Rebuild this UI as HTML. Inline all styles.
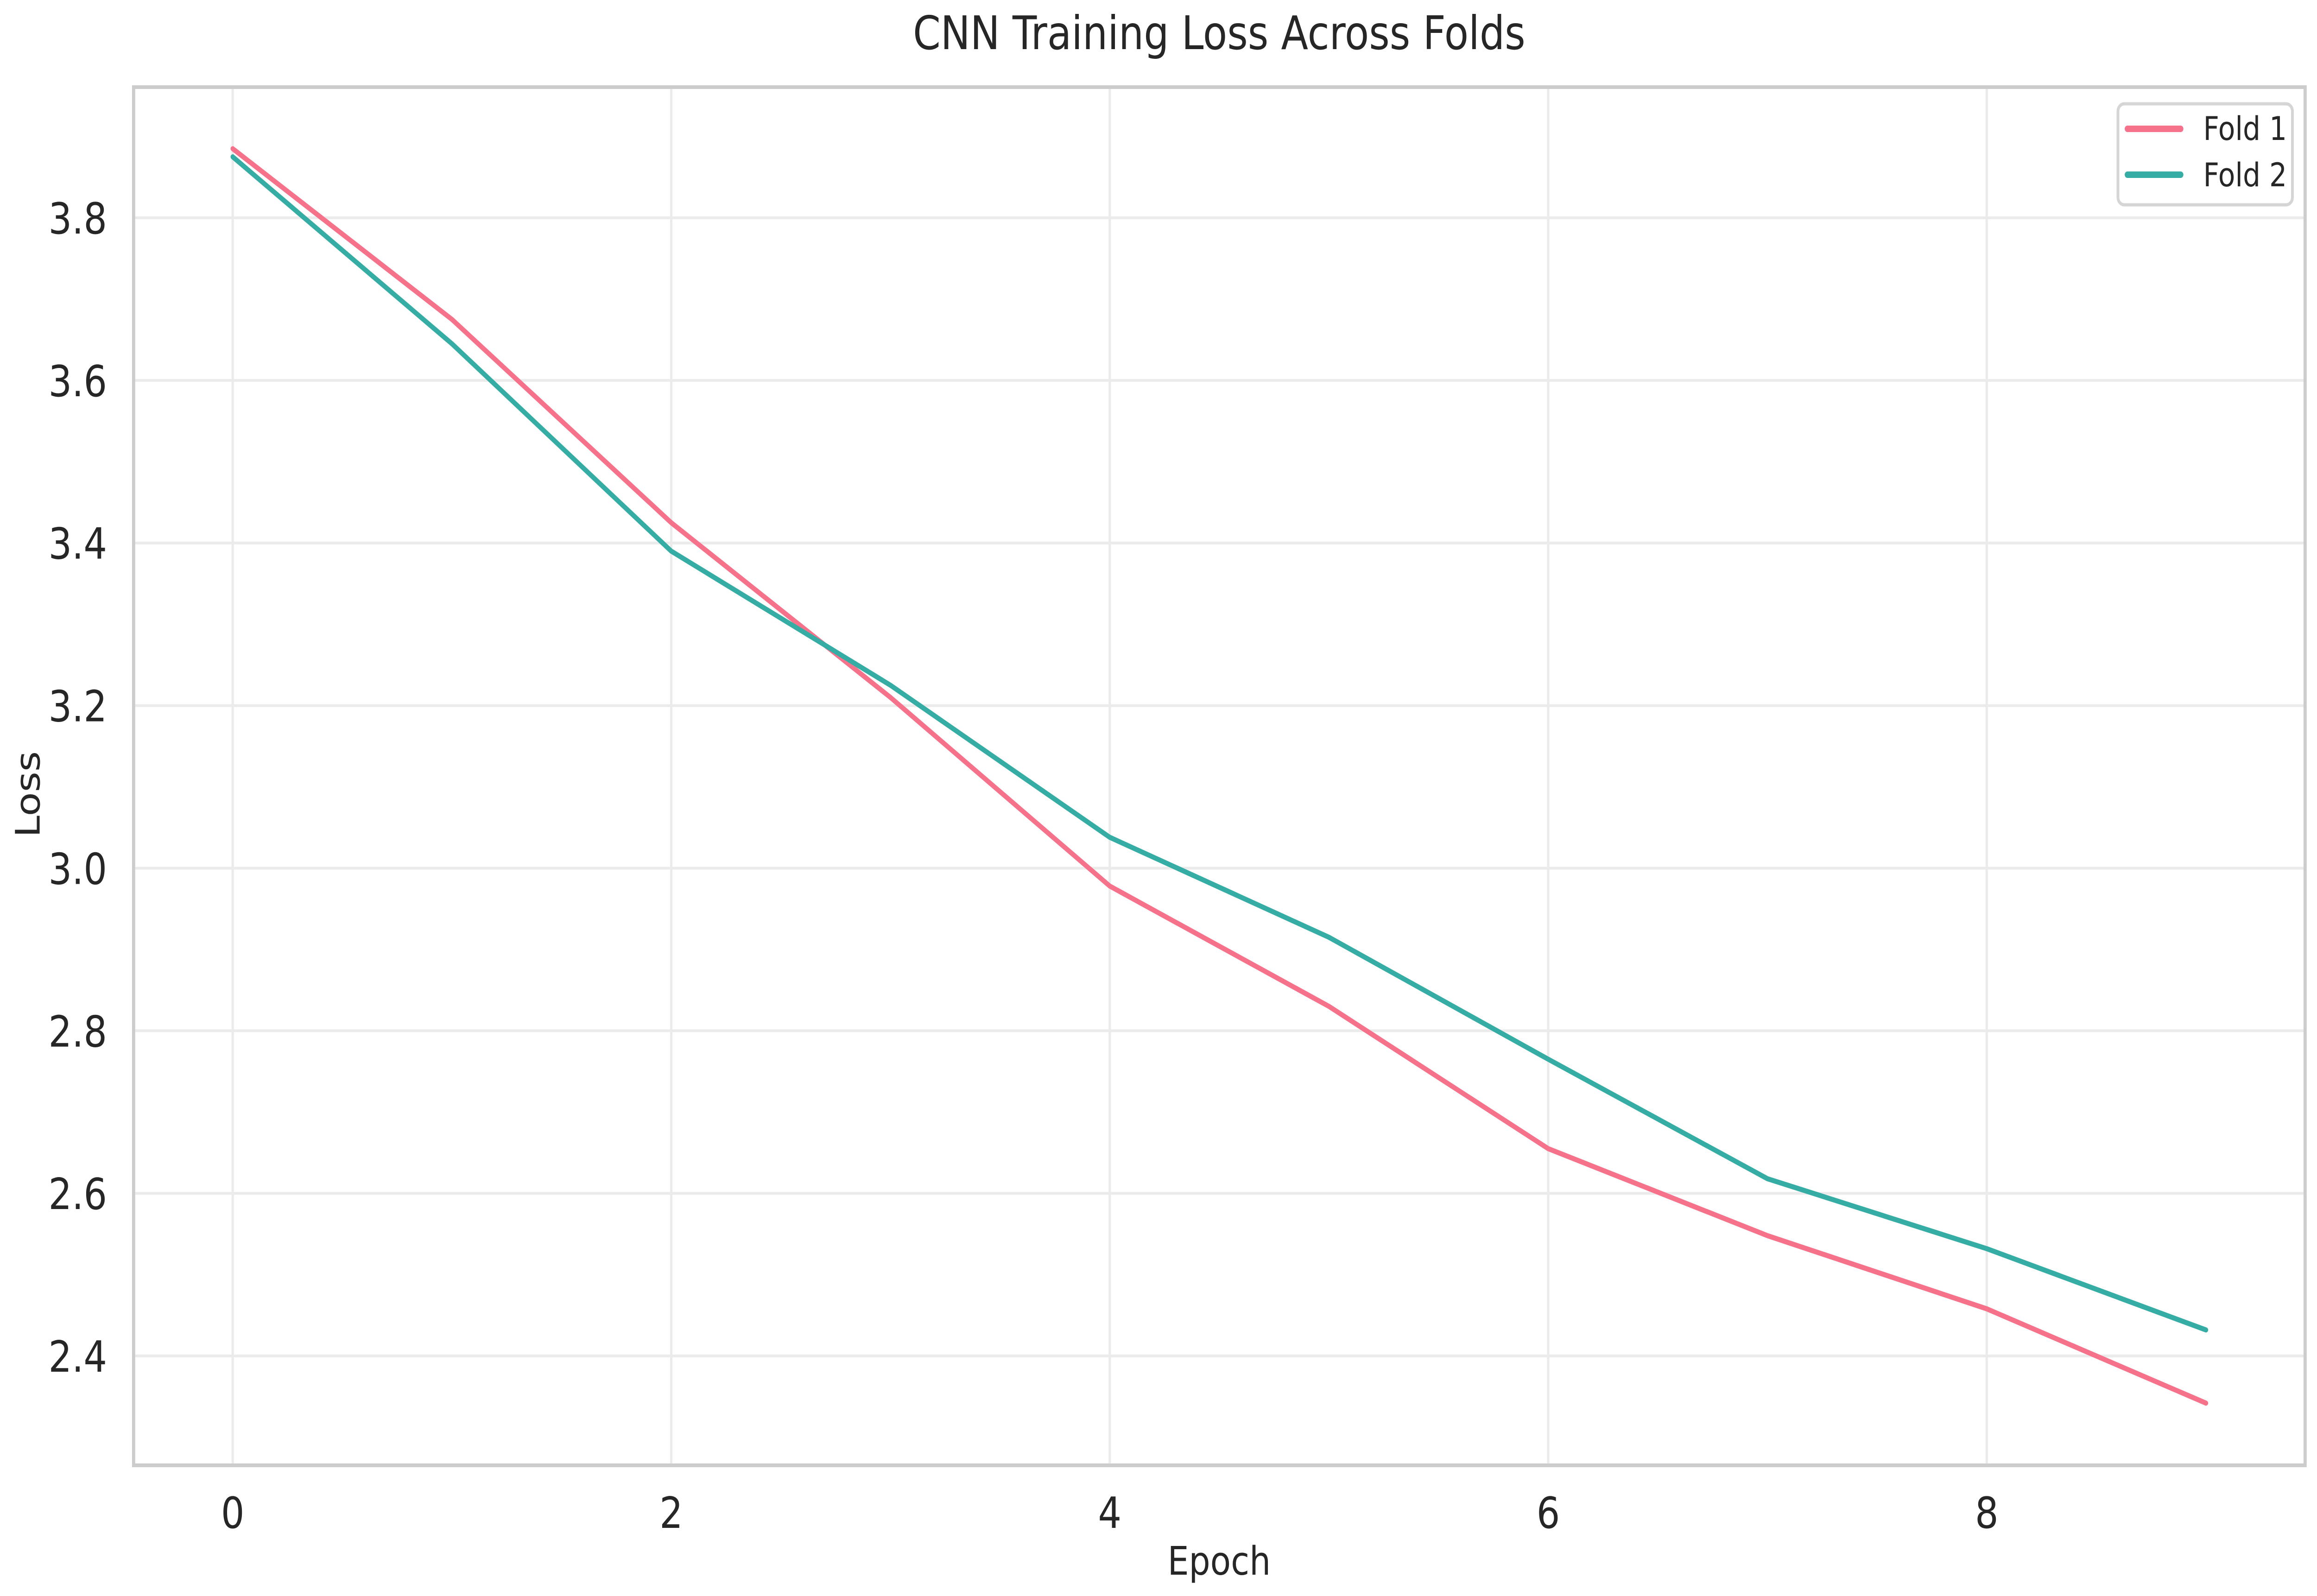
<!DOCTYPE html>
<html><head><meta charset="utf-8"><style>
html,body{margin:0;padding:0;background:#fff;overflow:hidden;width:100%;height:100%;}
svg{display:block;width:100vw;height:100vh;font-family:"DejaVu Sans","Liberation Sans",sans-serif;}
</style></head><body>
<svg id="chart" viewBox="0 0 5844 3444" preserveAspectRatio="none" xmlns="http://www.w3.org/2000/svg">
<rect x="0" y="0" width="5844" height="3444" fill="#fff"/>
<text x="3075" y="106" text-anchor="middle" font-size="100" fill="#262626">CNN Training Loss Across Folds</text>
<g id="grid"></g>
<g id="ticks"></g>
<g id="series"></g>
<rect x="337" y="188" width="5477" height="2974" fill="none" stroke="#cccccc" stroke-width="8"/>
<text x="3075" y="3398" text-anchor="middle" font-size="85" fill="#262626">Epoch</text>
<text x="0" y="0" transform="translate(100,1714) rotate(-90)" text-anchor="middle" font-size="85" fill="#262626">Loss</text>
<g id="legend">
<rect x="5342" y="224" width="440" height="218" rx="16" fill="#fff" stroke="#d5d5d5" stroke-width="7"/>
<line x1="5366" y1="278" x2="5500" y2="278" stroke="#f5728a" stroke-width="14" stroke-linecap="round"/>
<text x="5557" y="302" font-size="70" fill="#262626">Fold 1</text>
<line x1="5366" y1="377" x2="5500" y2="377" stroke="#36ada4" stroke-width="14" stroke-linecap="round"/>
<text x="5557" y="402" font-size="70" fill="#262626">Fold 2</text>
</g>
</svg>
<script>
const epochs = [0,1,2,3,4,5,6,7,8,9];
const fold1 = [3.885,3.675,3.425,3.21,2.978,2.83,2.655,2.548,2.458,2.342];
const fold2 = [3.875,3.645,3.39,3.225,3.038,2.915,2.765,2.618,2.532,2.432];
const xTicks = [0,2,4,6,8];
const yTicks = [2.4,2.6,2.8,3.0,3.2,3.4,3.6,3.8];

const NS = "http://www.w3.org/2000/svg";
const L = 337, R = 5814, T = 188, B = 3162;
function xs(v){ return 587 + v * 553; }
function ys(v){ return 470 + (3.8 - v) * 1754.3; }
function mk(tag, attrs, parent){
  const e = document.createElementNS(NS, tag);
  for (const k in attrs) e.setAttribute(k, attrs[k]);
  parent.appendChild(e); return e;
}
const grid = document.getElementById('grid');
const ticks = document.getElementById('ticks');
xTicks.forEach(t => {
  const g = mk('line', {x1:xs(t), x2:xs(t), y1:T, y2:B, stroke:'#ebebeb', 'stroke-width':6}, grid);
  
  
  const tx = mk('text', {x:xs(t), y:3297, 'text-anchor':'middle', 'font-size':93, fill:'#262626'}, ticks);
  tx.textContent = String(t);
  
  
});
yTicks.forEach(t => {
  const g = mk('line', {x1:L, x2:R, y1:ys(t), y2:ys(t), stroke:'#ebebeb', 'stroke-width':6}, grid);
  
  
  const tx = mk('text', {x:270, y:ys(t)+34, 'text-anchor':'end', 'font-size':93, fill:'#262626'}, ticks);
  tx.textContent = t.toFixed(1);
  
  
});
const series = document.getElementById('series');
function drawLine(vals, color, name){
  const pts = vals.map((v,i) => xs(epochs[i]).toFixed(1) + ',' + ys(v).toFixed(1)).join(' ');
  const p = mk('polyline', {points:pts, fill:'none', stroke:color, 'stroke-width':11, 'stroke-linejoin':'round', 'stroke-linecap':'round'}, series);
  
  
}
drawLine(fold1, '#f5728a', 'line-fold-1');
drawLine(fold2, '#36ada4', 'line-fold-2');
</script>
</body></html>
